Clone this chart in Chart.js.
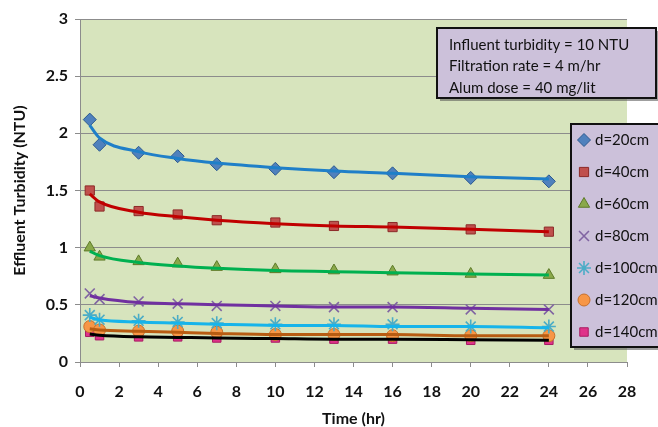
<!DOCTYPE html>
<html>
<head>
<meta charset="utf-8">
<script src="https://cdn.jsdelivr.net/npm/chart.js@4/dist/chart.umd.min.js"></script>
<style>
  html, body { margin: 0; padding: 0; background: #ffffff; }
  #wrap { width: 658px; height: 427px; position: relative; }
</style>
</head>
<body>
<div id="wrap"><canvas id="c" width="658" height="427"></canvas></div>
<script>
// ---- data ----
const times = [0.5, 1, 3, 5, 7, 10, 13, 16, 20, 24];
const seriesLabels = ['d=20cm', 'd=40cm', 'd=60cm', 'd=80cm', 'd=100cm', 'd=120cm', 'd=140cm'];

// measured points
const d20  = [2.12, 1.90, 1.83, 1.80, 1.73, 1.69, 1.66, 1.65, 1.61, 1.58];
const d40  = [1.50, 1.36, 1.32, 1.29, 1.24, 1.22, 1.19, 1.18, 1.16, 1.14];
const d60  = [1.00, 0.92, 0.88, 0.86, 0.83, 0.81, 0.80, 0.79, 0.77, 0.76];
const d80  = [0.60, 0.55, 0.53, 0.51, 0.49, 0.49, 0.48, 0.48, 0.46, 0.46];
const d100 = [0.41, 0.37, 0.36, 0.35, 0.34, 0.33, 0.33, 0.33, 0.31, 0.31];
const d120 = [0.31, 0.28, 0.27, 0.27, 0.26, 0.24, 0.24, 0.23, 0.23, 0.23];
const d140 = [0.26, 0.23, 0.22, 0.22, 0.21, 0.21, 0.20, 0.20, 0.19, 0.19];

// trend lines at the same times
const t20  = [2.07, 1.96, 1.84, 1.78, 1.74, 1.70, 1.67, 1.65, 1.62, 1.60];
const t40  = [1.47, 1.40, 1.31, 1.27, 1.24, 1.21, 1.19, 1.18, 1.16, 1.14];
const t60  = [0.97, 0.93, 0.87, 0.84, 0.82, 0.80, 0.79, 0.78, 0.77, 0.76];
const t80  = [0.58, 0.56, 0.52, 0.51, 0.50, 0.49, 0.48, 0.48, 0.47, 0.46];
const t100 = [0.39, 0.37, 0.35, 0.34, 0.33, 0.32, 0.32, 0.31, 0.31, 0.30];
const t120 = [0.29, 0.28, 0.27, 0.26, 0.25, 0.24, 0.24, 0.24, 0.23, 0.23];
const t140 = [0.245, 0.235, 0.22, 0.215, 0.21, 0.205, 0.20, 0.20, 0.195, 0.19];

const noteLines = ['Influent turbidity = 10 NTU', 'Filtration rate = 4 m/hr', 'Alum dose = 40 mg/lit'];

const xAxisTitle = 'Time (hr)';
const yAxisTitle = 'Effluent Turbidity (NTU)';

// ---- styles ----
const pointSeries = [d20, d40, d60, d80, d100, d120, d140];
const trendSeries = [t20, t40, t60, t80, t100, t120, t140];
const markerStyles = [
  { style: 'rectRot',  fill: '#4f81bd', stroke: '#2c5a8f', r: 6.5 },
  { style: 'rect',     fill: '#c0504d', stroke: '#8c2a28', r: 6.5 },
  { style: 'triangle', fill: '#8aa84a', stroke: '#5d7a28', r: 6.5 },
  { style: 'crossRot', fill: '#8064a2', stroke: '#8064a2', r: 7 },
  { style: 'star',     fill: '#4bacc6', stroke: '#4bacc6', r: 7 },
  { style: 'circle',   fill: '#f79646', stroke: '#c8702a', r: 6 },
  { style: 'rect',     fill: '#e0338a', stroke: '#a81c62', r: 6 }
];
const trendColors = ['#1f7fc8', '#c00000', '#00b050', '#7030a0', '#17b4ea', '#b85c12', '#000000'];

const xy = (arr) => arr.map((v, i) => ({ x: times[i], y: v }));

const datasets = [];
trendSeries.forEach((arr, i) => {
  datasets.push({
    label: 'trend ' + seriesLabels[i],
    data: xy(arr),
    showLine: true,
    borderColor: trendColors[i],
    borderWidth: 3,
    pointRadius: 0,
    cubicInterpolationMode: 'monotone',
    order: 0,
    isTrend: true
  });
});
pointSeries.forEach((arr, i) => {
  const m = markerStyles[i];
  datasets.push({
    label: seriesLabels[i],
    data: xy(arr),
    showLine: false,
    pointStyle: m.style,
    pointRadius: m.r,
    pointHoverRadius: m.r,
    backgroundColor: m.fill,
    borderColor: m.stroke,
    pointBorderWidth: (m.style === 'crossRot' || m.style === 'star') ? 1.6 : 1,
    order: 1
  });
});

const FONT = 'Lato, "Open Sans", sans-serif';

const bgPlugin = {
  id: 'plotBg',
  beforeDraw(chart) {
    const { ctx, chartArea: a } = chart;
    ctx.save();
    ctx.fillStyle = '#d7e4bd';
    ctx.fillRect(a.left, a.top, a.right - a.left, a.bottom - a.top);
    ctx.restore();
  }
};

function drawBox(ctx, x, y, w, h) {
  ctx.save();
  ctx.fillStyle = 'rgba(80,80,80,0.55)';
  ctx.fillRect(x + 3, y + 3, w, h);
  ctx.fillStyle = '#ccc1da';
  ctx.fillRect(x, y, w, h);
  ctx.lineWidth = 2;
  ctx.strokeStyle = '#111111';
  ctx.strokeRect(x, y, w, h);
  ctx.restore();
}

const overlayPlugin = {
  id: 'overlay',
  afterDraw(chart) {
    const ctx = chart.ctx;
    // note box
    drawBox(ctx, 437, 28, 219, 70);
    ctx.save();
    ctx.fillStyle = '#111111';
    ctx.font = '15px ' + FONT;
    ctx.textBaseline = 'middle';
    noteLines.forEach((t, i) => ctx.fillText(t, 449, 45 + i * 21.5));
    ctx.restore();

    // legend box
    drawBox(ctx, 571, 124, 100, 223);
    const pts = chart.data.datasets.filter(d => !d.isTrend);
    pts.forEach((ds, i) => {
      const y = 140 + i * 32;
      ctx.save();
      ctx.fillStyle = ds.backgroundColor;
      ctx.strokeStyle = ds.borderColor;
      ctx.lineWidth = ds.pointBorderWidth;
      Chart.helpers.drawPoint(ctx, { pointStyle: ds.pointStyle, radius: ds.pointRadius, rotation: 0, borderWidth: ds.pointBorderWidth }, 584, y);
      ctx.restore();
      ctx.save();
      ctx.fillStyle = '#111111';
      ctx.font = '15px ' + FONT;
      ctx.textBaseline = 'middle';
      ctx.fillText(ds.label, 595, y);
      ctx.restore();
    });
  }
};

new Chart(document.getElementById('c'), {
  type: 'scatter',
  data: { datasets },
  plugins: [bgPlugin, overlayPlugin],
  options: {
    responsive: false,
    animation: false,
    events: [],
    layout: { padding: { top: 19, right: 31, left: 0, bottom: 0 } },
    plugins: { legend: { display: false }, tooltip: { enabled: false } },
    scales: {
      x: {
        type: 'linear',
        min: 0, max: 28,
        ticks: { stepSize: 2, color: '#111', font: { family: FONT, size: 16, weight: 'bold' }, padding: 15, maxRotation: 0, autoSkip: false },
        grid: { drawOnChartArea: false, drawTicks: true, tickLength: 5, color: '#8c8c8c' },
        border: { color: '#8c8c8c', width: 1 },
        title: { display: true, text: xAxisTitle, color: '#111', font: { family: FONT, size: 16, weight: 'bold' }, padding: { top: 0, bottom: -1 } },
        afterFit(s) { s.height = 65; }
      },
      y: {
        type: 'linear',
        min: 0, max: 3,
        ticks: { stepSize: 0.5, color: '#111', font: { family: FONT, size: 16, weight: 'bold' }, padding: 7, callback: v => String(Number(v)) },
        grid: { color: '#8c8c8c', lineWidth: 1, drawTicks: true, tickLength: 5 },
        border: { color: '#8c8c8c', width: 1 },
        title: { display: true, text: yAxisTitle, color: '#111', font: { family: FONT, size: 16, weight: 'bold' }, padding: { top: 10, bottom: 0 } },
        afterFit(s) { s.width = 80; }
      }
    }
  }
});
</script>
</body>
</html>
